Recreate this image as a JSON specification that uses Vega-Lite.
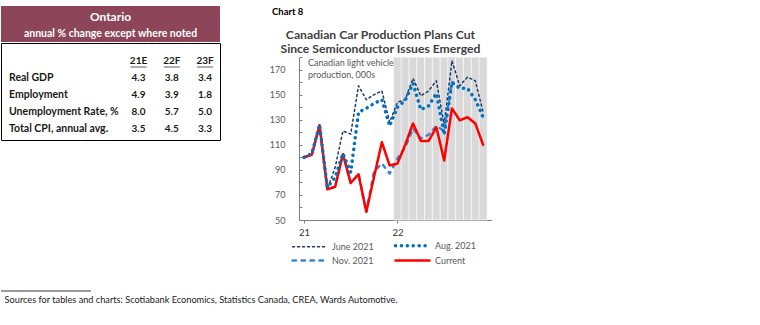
{
  "$schema": "https://vega.github.io/schema/vega-lite/v6.json",
  "background": "white",
  "padding": {"left": 0, "top": 6, "right": 0, "bottom": 0},
  "config": {
    "font": "Lato",
    "view": {"stroke": null},
    "legend": {
      "orient": "none", "legendX": 6, "legendY": 184, "columns": 2, "direction": "horizontal", "columnPadding": 14, "rowPadding": 2,
      "symbolType": "stroke", "symbolSize": 1156, "labelFontSize": 9, "labelColor": "#595959", "labelOffset": 18, "padding": 0
    }
  },
  "datasets": {
    "hdr": [
      {"k": "t", "txt": "Ontario"},
      {"k": "s", "txt": "annual % change except where noted"}
    ],
    "tbl": [
      {"row": "hdr", "col": "21E", "val": "21E"},
      {"row": "hdr", "col": "22F", "val": "22F"},
      {"row": "hdr", "col": "23F", "val": "23F"},
      {"row": "Real GDP", "col": "label", "val": "Real GDP"},
      {"row": "Real GDP", "col": "21E", "val": "4.3"},
      {"row": "Real GDP", "col": "22F", "val": "3.8"},
      {"row": "Real GDP", "col": "23F", "val": "3.4"},
      {"row": "Employment", "col": "label", "val": "Employment"},
      {"row": "Employment", "col": "21E", "val": "4.9"},
      {"row": "Employment", "col": "22F", "val": "3.9"},
      {"row": "Employment", "col": "23F", "val": "1.8"},
      {"row": "Unemployment Rate, %", "col": "label", "val": "Unemployment Rate, %"},
      {"row": "Unemployment Rate, %", "col": "21E", "val": "8.0"},
      {"row": "Unemployment Rate, %", "col": "22F", "val": "5.7"},
      {"row": "Unemployment Rate, %", "col": "23F", "val": "5.0"},
      {"row": "Total CPI, annual avg.", "col": "label", "val": "Total CPI, annual avg."},
      {"row": "Total CPI, annual avg.", "col": "21E", "val": "3.5"},
      {"row": "Total CPI, annual avg.", "col": "22F", "val": "4.5"},
      {"row": "Total CPI, annual avg.", "col": "23F", "val": "3.3"}
    ],
    "heads": [
      {"k": "c", "t": "Chart 8"},
      {"k": "m", "t": "Canadian Car Production Plans Cut\nSince Semiconductor Issues Emerged"}
    ],
    "shade": [
      {"m": 13, "lo": 50, "hi": 180}, {"m": 14, "lo": 50, "hi": 180}, {"m": 15, "lo": 50, "hi": 180},
      {"m": 16, "lo": 50, "hi": 180}, {"m": 17, "lo": 50, "hi": 180}, {"m": 18, "lo": 50, "hi": 180},
      {"m": 19, "lo": 50, "hi": 180}, {"m": 20, "lo": 50, "hi": 180}, {"m": 21, "lo": 50, "hi": 180},
      {"m": 22, "lo": 50, "hi": 180}, {"m": 23, "lo": 50, "hi": 180}, {"m": 24, "lo": 50, "hi": 180}
    ],
    "series": [
      {"s": "June 2021", "m": 1, "v": 100}, {"s": "June 2021", "m": 2, "v": 102}, {"s": "June 2021", "m": 3, "v": 125.5},
      {"s": "June 2021", "m": 4, "v": 74.5}, {"s": "June 2021", "m": 5, "v": 92}, {"s": "June 2021", "m": 6, "v": 121},
      {"s": "June 2021", "m": 7, "v": 118.5}, {"s": "June 2021", "m": 8, "v": 157}, {"s": "June 2021", "m": 9, "v": 146},
      {"s": "June 2021", "m": 10, "v": 150}, {"s": "June 2021", "m": 11, "v": 153}, {"s": "June 2021", "m": 12, "v": 128},
      {"s": "June 2021", "m": 13, "v": 144}, {"s": "June 2021", "m": 14, "v": 146}, {"s": "June 2021", "m": 15, "v": 163},
      {"s": "June 2021", "m": 16, "v": 149}, {"s": "June 2021", "m": 17, "v": 153}, {"s": "June 2021", "m": 18, "v": 161},
      {"s": "June 2021", "m": 19, "v": 126}, {"s": "June 2021", "m": 20, "v": 177}, {"s": "June 2021", "m": 21, "v": 157},
      {"s": "June 2021", "m": 22, "v": 164}, {"s": "June 2021", "m": 23, "v": 161}, {"s": "June 2021", "m": 24, "v": 136},
      {"s": "Nov. 2021", "m": 1, "v": 100}, {"s": "Nov. 2021", "m": 2, "v": 102}, {"s": "Nov. 2021", "m": 3, "v": 125.5},
      {"s": "Nov. 2021", "m": 4, "v": 74.5}, {"s": "Nov. 2021", "m": 5, "v": 76.5}, {"s": "Nov. 2021", "m": 6, "v": 102.5},
      {"s": "Nov. 2021", "m": 7, "v": 79.5}, {"s": "Nov. 2021", "m": 8, "v": 86.5}, {"s": "Nov. 2021", "m": 9, "v": 56.5},
      {"s": "Nov. 2021", "m": 10, "v": 89}, {"s": "Nov. 2021", "m": 11, "v": 95}, {"s": "Nov. 2021", "m": 12, "v": 87},
      {"s": "Nov. 2021", "m": 13, "v": 99}, {"s": "Nov. 2021", "m": 14, "v": 108}, {"s": "Nov. 2021", "m": 15, "v": 123},
      {"s": "Nov. 2021", "m": 16, "v": 115}, {"s": "Nov. 2021", "m": 17, "v": 118}, {"s": "Nov. 2021", "m": 18, "v": 125},
      {"s": "Nov. 2021", "m": 19, "v": 121}, {"s": "Nov. 2021", "m": 20, "v": 160},
      {"s": "Current", "m": 1, "v": 100}, {"s": "Current", "m": 2, "v": 102}, {"s": "Current", "m": 3, "v": 125.5},
      {"s": "Current", "m": 4, "v": 74.5}, {"s": "Current", "m": 5, "v": 76.5}, {"s": "Current", "m": 6, "v": 102.5},
      {"s": "Current", "m": 7, "v": 79.5}, {"s": "Current", "m": 8, "v": 86.5}, {"s": "Current", "m": 9, "v": 56.5},
      {"s": "Current", "m": 10, "v": 84.5}, {"s": "Current", "m": 11, "v": 112}, {"s": "Current", "m": 12, "v": 93.5},
      {"s": "Current", "m": 13, "v": 95}, {"s": "Current", "m": 14, "v": 110}, {"s": "Current", "m": 15, "v": 127},
      {"s": "Current", "m": 16, "v": 113}, {"s": "Current", "m": 17, "v": 113}, {"s": "Current", "m": 18, "v": 124},
      {"s": "Current", "m": 19, "v": 97.5}, {"s": "Current", "m": 20, "v": 139}, {"s": "Current", "m": 21, "v": 129.5},
      {"s": "Current", "m": 22, "v": 132}, {"s": "Current", "m": 23, "v": 127}, {"s": "Current", "m": 24, "v": 110},
      {"s": "Aug. 2021", "m": 1, "v": 100}, {"s": "Aug. 2021", "m": 2, "v": 103}, {"s": "Aug. 2021", "m": 3, "v": 126},
      {"s": "Aug. 2021", "m": 4, "v": 76}, {"s": "Aug. 2021", "m": 5, "v": 84}, {"s": "Aug. 2021", "m": 6, "v": 103},
      {"s": "Aug. 2021", "m": 7, "v": 88}, {"s": "Aug. 2021", "m": 8, "v": 136}, {"s": "Aug. 2021", "m": 9, "v": 139},
      {"s": "Aug. 2021", "m": 10, "v": 143}, {"s": "Aug. 2021", "m": 11, "v": 146}, {"s": "Aug. 2021", "m": 12, "v": 125},
      {"s": "Aug. 2021", "m": 13, "v": 140}, {"s": "Aug. 2021", "m": 14, "v": 145.5}, {"s": "Aug. 2021", "m": 15, "v": 159},
      {"s": "Aug. 2021", "m": 16, "v": 138}, {"s": "Aug. 2021", "m": 17, "v": 141}, {"s": "Aug. 2021", "m": 18, "v": 151},
      {"s": "Aug. 2021", "m": 19, "v": 118}, {"s": "Aug. 2021", "m": 20, "v": 160}, {"s": "Aug. 2021", "m": 21, "v": 155},
      {"s": "Aug. 2021", "m": 22, "v": 155}, {"s": "Aug. 2021", "m": 23, "v": 146}, {"s": "Aug. 2021", "m": 24, "v": 132}
    ],
    "note": [{"t": "Canadian light vehicle\nproduction, 000s", "m": 1, "v": 180}],
    "blank": [{}]
  },
  "resolve": {"scale": {"color": "independent", "strokeDash": "independent"}, "legend": {"color": "independent", "strokeDash": "independent"}},
  "vconcat": [
    {
      "resolve": {"scale": {"color": "independent", "strokeDash": "independent"}, "legend": {"color": "independent", "strokeDash": "independent"}},
      "hconcat": [
        {
          "vconcat": [
            {
              "width": 219, "height": 36,
              "view": {"fill": "#8C4559", "stroke": null},
              "data": {"name": "hdr"},
              "encoding": {
                "y": {"field": "k", "type": "nominal", "axis": null, "scale": {"type": "point", "domain": ["t", "s"], "range": [10.5, 27.5], "padding": 0}},
                "text": {"field": "txt"}
              },
              "layer": [
                {"transform": [{"filter": "datum.k == 't'"}], "mark": {"type": "text", "fontSize": 12, "fontWeight": "bold", "color": "white"}},
                {"transform": [{"filter": "datum.k == 's'"}], "mark": {"type": "text", "fontSize": 10.5, "fontWeight": "bold", "color": "white"}}
              ]
            },
            {
              "width": 219, "height": 97,
              "view": {"stroke": "#000000", "strokeWidth": 1},
              "data": {"name": "tbl"},
              "encoding": {
                "y": {"field": "row", "type": "nominal", "axis": null,
                  "scale": {"type": "point", "padding": 0, "domain": ["hdr", "Real GDP", "Employment", "Unemployment Rate, %", "Total CPI, annual avg."], "range": [17.5, 85.5]}}
              },
              "layer": [
                {
                  "transform": [{"filter": "datum.col != 'label'"}],
                  "mark": {"type": "text", "fontSize": 10, "fontWeight": "bold", "color": "#1a1a1a"},
                  "encoding": {
                    "x": {"field": "col", "type": "nominal", "axis": null, "scale": {"type": "point", "padding": 0, "domain": ["21E", "22F", "23F"], "range": [137.5, 204]}},
                    "text": {"field": "val"}
                  }
                },
                {
                  "transform": [{"filter": "datum.row == 'hdr'"}],
                  "mark": {"type": "tick", "orient": "horizontal", "size": 16, "thickness": 1, "color": "#1a1a1a", "yOffset": 6.5},
                  "encoding": {
                    "x": {"field": "col", "type": "nominal", "axis": null}
                  }
                },
                {
                  "transform": [{"filter": "datum.col == 'label'"}],
                  "mark": {"type": "text", "align": "left", "dx": -101.5, "fontSize": 10.5, "fontWeight": "bold", "color": "#1a1a1a"},
                  "encoding": {"text": {"field": "val"}}
                }
              ]
            }
          ],
          "spacing": 0
        },
        {
          "resolve": {"scale": {"color": "independent", "strokeDash": "independent"}, "legend": {"color": "independent", "strokeDash": "independent"}},
          "spacing": 0,
          "vconcat": [
            {
              "width": 193, "height": 50,
              "data": {"name": "heads"},
              "encoding": {"text": {"field": "t"}},
              "layer": [
                {"transform": [{"filter": "datum.k == 'c'"}],
                  "mark": {"type": "text", "align": "left", "baseline": "middle", "dx": -123.5, "dy": -19, "fontSize": 9.5, "fontWeight": "bold", "color": "#000000"}},
                {"transform": [{"filter": "datum.k == 'm'"}],
                  "mark": {"type": "text", "align": "center", "baseline": "middle", "lineBreak": "\n", "lineHeight": 14, "dx": -15, "dy": 4, "fontSize": 12.2, "fontWeight": "bold", "color": "#404040"}}
              ]
            },
            {
              "width": 193, "height": 163,
              "encoding": {
                "x": {"field": "m", "type": "quantitative",
                  "scale": {"domain": [1, 24.5], "nice": false, "zero": false},
                  "axis": {"values": [1, 13], "labelExpr": "datum.value == 1 ? '21' : '22'", "title": null, "grid": false,
                    "tickSize": 3, "domainColor": "#808080", "tickColor": "#808080", "labelFontSize": 9.5, "labelColor": "#333333", "labelPadding": 4}},
                "y": {"field": "v", "type": "quantitative",
                  "scale": {"domain": [50, 180], "nice": false, "zero": false},
                  "axis": {"values": [50, 60, 70, 80, 90, 100, 110, 120, 130, 140, 150, 160, 170, 180],
                    "labelExpr": "datum.value % 20 == 10 ? datum.label : ''", "title": null, "grid": false,
                    "tickSize": -3, "labelPadding": 17, "domainColor": "#808080", "tickColor": "#808080", "labelFontSize": 9, "labelColor": "#595959"}}
              },
              "layer": [
                {
                  "data": {"name": "shade"},
                  "mark": {"type": "bar", "size": 8.2, "color": "#D9D9D9", "stroke": "#FFFFFF", "strokeWidth": 0.7},
                  "encoding": {"y": {"field": "hi", "type": "quantitative"}, "y2": {"field": "lo"}}
                },
                {
                  "data": {"name": "series"},
                  "mark": {"type": "line", "strokeCap": "round", "strokeJoin": "round"},
                  "encoding": {
                    "color": {"field": "s", "type": "nominal", "title": null,
                      "scale": {"domain": ["June 2021", "Aug. 2021", "Nov. 2021", "Current"], "range": ["#1F3864", "#0070C0", "#3C87D2", "#FF0000"]},
                      "legend": {"encode": {"symbols": {"update": {"strokeCap": {"value": "round"},
                        "strokeWidth": {"signal": "datum.value == 'Aug. 2021' ? 3.5 : datum.value == 'June 2021' ? 1.5 : 2.5"}}}}}},
                    "strokeDash": {"field": "s", "type": "nominal", "title": null,
                      "scale": {"domain": ["June 2021", "Aug. 2021", "Nov. 2021", "Current"], "range": [[2, 3], [0.1, 5.8], [3.5, 5.5], [1, 0]]}},
                    "strokeWidth": {"condition": [{"test": "datum.s == 'June 2021'", "value": 1.5}, {"test": "datum.s == 'Aug. 2021'", "value": 3.5}], "value": 2.5}
                  }
                },
                {
                  "data": {"name": "note"},
                  "mark": {"type": "text", "align": "left", "baseline": "top", "lineBreak": "\n", "lineHeight": 12, "dx": 4, "dy": 2, "fontSize": 9, "color": "#595959"},
                  "encoding": {"text": {"field": "t"}}
                }
              ]
            }
          ]
        }
      ],
      "spacing": 48
    },
    {
      "width": 90, "height": 1,
      "data": {"name": "blank"},
      "mark": {"type": "rule", "color": "#000000", "strokeWidth": 0.8},
      "encoding": {"y": {"value": 0}},
      "title": {"text": "Sources for tables and charts: Scotiabank Economics, Statistics Canada, CREA, Wards Automotive.",
        "orient": "bottom", "anchor": "start", "frame": "bounds", "fontSize": 9.2, "fontWeight": "normal", "color": "#1a1a1a", "offset": 4, "dx": 4}
    }
  ],
  "spacing": 24
}
